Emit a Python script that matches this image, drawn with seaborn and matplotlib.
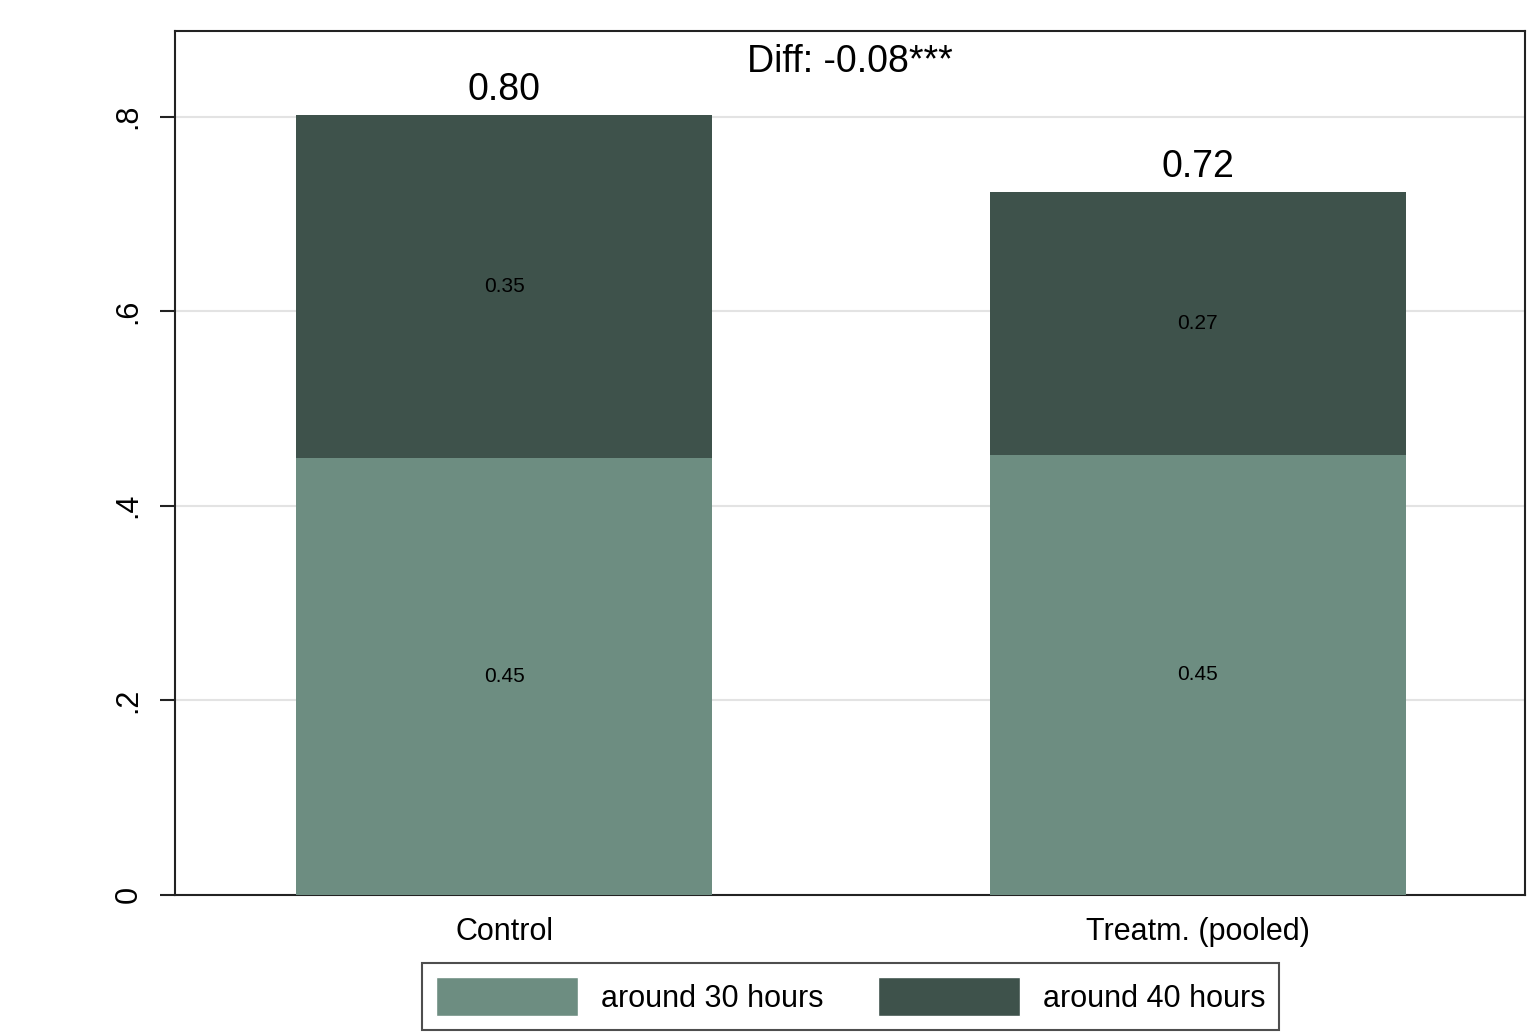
import pandas as pd
import numpy as np
import seaborn as sns
import matplotlib.pyplot as plt
from matplotlib.patches import Patch

# values
groups = ['Control', 'Treatm. (pooled)']
hours30 = [0.449, 0.452]
hours40 = [0.353, 0.270]
diff_text = 'Diff: -0.08***'
yticks = [0, 0.2, 0.4, 0.6, 0.8]
ytick_labels = ['0', '.2', '.4', '.6', '.8']

light = '#6d8d81'
dark = '#3e524b'

sns.set_style('white')
plt.rcParams['font.family'] = ['Liberation Sans', 'DejaVu Sans']
plt.rcParams['text.color'] = 'black'
plt.rcParams['xtick.color'] = 'black'
plt.rcParams['ytick.color'] = 'black'

df = pd.DataFrame({'group': groups, 'h30': hours30, 'h40': hours40})
df['total'] = df['h30'] + df['h40']

fig, ax = plt.subplots(figsize=(15.38, 10.32), dpi=100)
fig.subplots_adjust(left=0.114, right=0.9915, top=0.97, bottom=0.133)

# stacked bars: total first, then lower part on top of it
sns.barplot(data=df, x='group', y='total', color=dark, width=0.6, saturation=1,
            linewidth=0, ax=ax, zorder=2)
sns.barplot(data=df, x='group', y='h30', color=light, width=0.6, saturation=1,
            linewidth=0, ax=ax, zorder=3)

for i, row in df.iterrows():
    ax.text(i, row['h30'] / 2, f"{row['h30']:.2f}", ha='center', va='center', fontsize=15, zorder=4)
    ax.text(i, row['h30'] + row['h40'] / 2, f"{row['h40']:.2f}", ha='center', va='center', fontsize=15, zorder=4)
    ax.annotate(f"{row['total']:.2f}", (i, row['total']), xytext=(0, 18), textcoords='offset points',
                ha='center', va='center', fontsize=27)

ax.text(0.5, 0.964, diff_text, transform=ax.transAxes, ha='center', va='center', fontsize=27)

ax.set_xlim(-0.474, 1.472)
ax.set_ylim(0, 0.888)
ax.set_yticks(yticks)
ax.set_yticklabels(ytick_labels, rotation=90, va='center')
ax.tick_params(axis='y', length=11, width=1.5, labelsize=22, pad=12, left=True, color='#222222')
ax.tick_params(axis='x', length=0, labelsize=22, pad=16)
ax.set_xlabel('')
ax.set_ylabel('')
ax.yaxis.grid(True, color='#e3e3e3', linewidth=1.5, zorder=0)
ax.set_axisbelow(True)
for s in ax.spines.values():
    s.set_color('#222222')
    s.set_linewidth(1.5)

handles = [Patch(facecolor=light, label='around 30 hours'), Patch(facecolor=dark, label='around 40 hours')]
leg = fig.legend(handles=handles, loc='center', bbox_to_anchor=(0.553, 0.0344), ncol=2, fontsize=22,
                 handlelength=4.65, handleheight=1.6, handletextpad=0.75, columnspacing=1.8,
                 fancybox=False, edgecolor='#222222', borderpad=0.45, borderaxespad=0)
leg.get_frame().set_linewidth(1.5)

plt.savefig('out.png', dpi=100)
